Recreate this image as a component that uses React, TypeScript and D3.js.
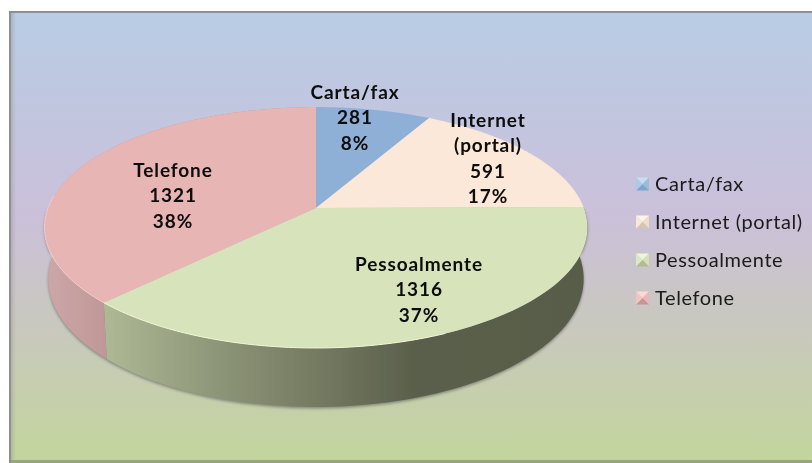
import React from "react";
import * as d3 from "d3";

const categories = ["Carta/fax", "Internet (portal)", "Pessoalmente", "Telefone"];
const values = [281, 591, 1316, 1321];
const percentLabels = ["8%", "17%", "37%", "38%"];
const labelLines = [["Carta/fax"], ["Internet", "(portal)"], ["Pessoalmente"], ["Telefone"]];
const topColors = ["#8fb0d6", "#fbe8d8", "#d7e3bb", "#e6b5b4"];
const swatchColors = [
  ["#c8def0", "#9cbcdc", "#7ea6cc", "#accae6"],
  ["#fff4e8", "#f0dcc8", "#d8c4b0", "#f8e8d8"],
  ["#eef6d8", "#d4e0b8", "#b0bc94", "#dce8c4"],
  ["#fcd8d8", "#e8b8b8", "#c89494", "#f0c4c4"],
];
const labelPos: [number, number][] = [[355, 92], [488, 120], [419, 264], [173, 170]];

const W = 812, H = 463;
const CX = 316, CY = 208;
const A = 267.9, B = 117.3, K = -0.162;

const project = (a: number) => {
  const u = Math.sin(a), v = -Math.cos(a);
  const w = 1 + K * v;
  return { x: CX + (A * u) / w, y: CY + (B * v) / w, v };
};
const projectLow = (a: number) => {
  const p = project(a);
  return { x: CX + (p.x - CX) * 0.986, y: p.y + 50 + 9 * p.v };
};

const line = d3.line<{ x: number; y: number }>().x((d) => d.x).y((d) => d.y);
const samples = (s: number, e: number) => d3.range(0, 81).map((i) => s + ((e - s) * i) / 80);

const arcs = d3.pie<number>().sort(null).startAngle(0).endAngle(2 * Math.PI)(values);

const topPath = (s: number, e: number) =>
  line([{ x: CX, y: CY }, ...samples(s, e).map(project)]) + "Z";
const wallPath = (s: number, e: number) => {
  const ang = samples(s, e);
  return line([...ang.map(project), ...ang.slice().reverse().map(projectLow)]) + "Z";
};

const legendY = d3.scalePoint<string>().domain(categories).range([184, 298]);
const FONT = "Lato, 'Open Sans', sans-serif";
const LINE_H = 25.6;

export default function App() {
  const silhouette = wallPath(Math.PI / 2, (3 * Math.PI) / 2);
  return (
    <svg width={W} height={H} style={{ position: "absolute", left: 0, top: 0, display: "block" }}>
      <defs>
        <linearGradient id="bg" x1="0" y1="0" x2="0" y2="1">
          <stop offset="0" stopColor="#b8cce4" />
          <stop offset="0.45" stopColor="#cbc0da" />
          <stop offset="0.72" stopColor="#c9c9bc" />
          <stop offset="1" stopColor="#c2d59c" />
        </linearGradient>
        <linearGradient id="wallP" gradientUnits="userSpaceOnUse" x1="105" y1="0" x2="590" y2="0">
          <stop offset="0" stopColor="#adb894" />
          <stop offset="0.25" stopColor="#8b9376" />
          <stop offset="0.46" stopColor="#72775f" />
          <stop offset="0.64" stopColor="#5a5f4b" />
          <stop offset="1" stopColor="#595d49" />
        </linearGradient>
        <linearGradient id="wallT" gradientUnits="userSpaceOnUse" x1="44" y1="0" x2="110" y2="0">
          <stop offset="0" stopColor="#cca8a8" />
          <stop offset="1" stopColor="#c09696" />
        </linearGradient>
        <linearGradient id="edgeL" x1="0" y1="0" x2="1" y2="0">
          <stop offset="0" stopColor="#808080" stopOpacity={0.3} />
          <stop offset="1" stopColor="#808080" stopOpacity={0} />
        </linearGradient>
        <filter id="soft" x="-5%" y="-5%" width="110%" height="110%">
          <feGaussianBlur stdDeviation="0.6" />
        </filter>
        <filter id="shadow" x="-10%" y="-10%" width="120%" height="130%">
          <feGaussianBlur stdDeviation="1.6" />
        </filter>
        <filter id="textSoft" x="-5%" y="-5%" width="110%" height="110%">
          <feGaussianBlur stdDeviation="0.35" />
        </filter>
      </defs>

      <rect x={0} y={0} width={W} height={H} fill="#ffffff" />
      <rect x={9} y={11} width={W - 9} height={H - 11} fill="#8f8f8f" />
      <rect x={11} y={13} width={W - 11} height={447} fill="url(#bg)" />
      <rect x={11} y={13} width={5} height={447} fill="url(#edgeL)" />
      <rect x={11} y={460} width={W - 11} height={3} fill="#98a67c" />

      <path d={silhouette} fill="#4a4a50" opacity={0.55} filter="url(#shadow)" transform="translate(0,1.5)" />

      <g filter="url(#soft)">
        {arcs.map((d, i) =>
          i === 0 || i === 1 ? null : (
            <path
              key={"w" + i}
              d={wallPath(d.startAngle, d.endAngle)}
              fill={i === 2 ? "url(#wallP)" : "url(#wallT)"}
            />
          )
        )}
        {arcs.map((d, i) => (
          <path key={"t" + i} d={topPath(d.startAngle, d.endAngle)} fill={topColors[i]} />
        ))}
        <path
          d={line(samples(arcs[2].endAngle - 1.2, arcs[2].endAngle).map(project)) || ""}
          fill="none"
          stroke="#f0f8d4"
          strokeWidth={1}
        />
        <path
          d={line(samples(arcs[3].startAngle, arcs[3].startAngle + 0.9).map(project)) || ""}
          fill="none"
          stroke="#f8cccc"
          strokeWidth={1}
        />
      </g>

      <g filter="url(#textSoft)" fontFamily={FONT} fontWeight={700} fontSize={19} fill="#0c0c0c" textAnchor="middle">
        {categories.map((c, i) => {
          const lines = [...labelLines[i], String(values[i]), percentLabels[i]];
          return lines.map((t, j) => (
            <text key={c + j} x={labelPos[i][0]} y={labelPos[i][1] + j * LINE_H + 6.5} letterSpacing={0.9}>
              {t}
            </text>
          ));
        })}
      </g>

      {categories.map((c, i) => {
        const y = legendY(c) as number;
        const x0 = 636, s = 13, hs = s / 2;
        const y0 = y - hs;
        const mx = x0 + hs, my = y;
        const tri = (a: number[], b: number[]) => `M${a}L${b}L${mx},${my}Z`;
        const tl = [x0, y0], tr = [x0 + s, y0], br = [x0 + s, y0 + s], bl = [x0, y0 + s];
        return (
          <g key={c}>
            <g filter="url(#textSoft)">
              <path d={tri(tl, tr)} fill={swatchColors[i][0]} />
              <path d={tri(tr, br)} fill={swatchColors[i][1]} />
              <path d={tri(br, bl)} fill={swatchColors[i][2]} />
              <path d={tri(bl, tl)} fill={swatchColors[i][3]} />
            </g>
            <text
              x={655}
              y={y + 7}
              fontFamily={FONT}
              fontSize={20}
              fill="#1a1a1a"
              letterSpacing={0.6}
              filter="url(#textSoft)"
            >
              {c}
            </text>
          </g>
        );
      })}
    </svg>
  );
}
